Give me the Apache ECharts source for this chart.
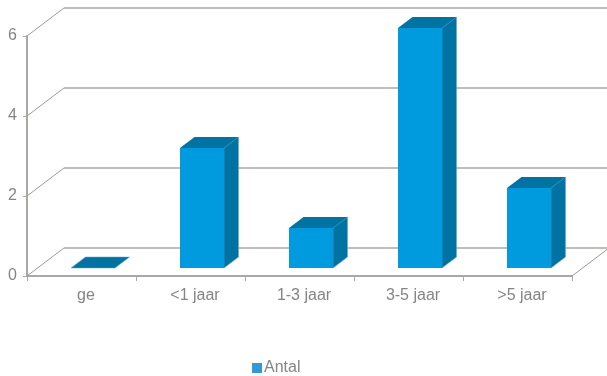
<!DOCTYPE html>
<html><head><meta charset="utf-8">
<style>html,body{margin:0;padding:0;background:#fff}#c{width:607px;height:376px}</style>
<script src="https://cdn.jsdelivr.net/npm/echarts@6/dist/echarts.min.js"></script>
</head><body><div id="c"></div>
<script>
var categories = ['ge', '<1 jaar', '1-3 jaar', '3-5 jaar', '>5 jaar'];
var antal = [0, 3, 1, 6, 2];
var yTicks = [0, 2, 4, 6];

var chart = echarts.init(document.getElementById('c'), null, {renderer: 'canvas'});
var wallDX = 37, wallDY = -28, barShiftX = 11.5, barShiftY = -8, depthX = 14.5, depthY = -11, barW = 44;
var FRONT = '#009ade', DARK = '#0073a3', LINE = '#a8a8a4', TXT = '#858585';

function renderWall(params, api) {
  var v = api.value(0);
  var p = api.coord([0, v]);
  var size = params.coordSys;
  var x0 = size.x, x1 = size.x + size.width, y = p[1];
  var ch = [
    {type: 'line', shape: {x1: x0, y1: y, x2: x0 + wallDX, y2: y + wallDY}, style: {stroke: '#9a9a96', lineWidth: 1}},
    {type: 'line', shape: {x1: x0 + wallDX, y1: y + wallDY, x2: 607, y2: y + wallDY}, style: {stroke: LINE, lineWidth: 1.4}}
  ];
  if (v === 0) {
    ch.push({type: 'line', shape: {x1: x1, y1: y, x2: x1 + wallDX, y2: y + wallDY}, style: {stroke: '#9a9a96', lineWidth: 1}});
  }
  return {type: 'group', children: ch};
}

function renderBar(params, api) {
  var c = api.coord([api.value(0), api.value(1)]);
  var b = api.coord([api.value(0), 0]);
  var l = c[0] + barShiftX - barW / 2, r = l + barW;
  var t = c[1] + barShiftY, bt = b[1] + barShiftY;
  var ch = [];
  if (bt - t > 0) {
    ch.push({type: 'polygon', shape: {points: [[r, t], [r + depthX, t + depthY], [r + depthX, bt + depthY], [r, bt]]},
      style: {fill: DARK, stroke: '#5fa9cc', lineWidth: 0.5}});
    ch.push({type: 'rect', shape: {x: l, y: t, width: barW, height: bt - t}, style: {fill: FRONT}});
  }
  ch.push({type: 'polygon', shape: {points: [[l, t], [r, t], [r + depthX, t + depthY], [l + depthX, t + depthY]]},
    style: {fill: DARK, stroke: bt - t > 0 ? null : '#5fa9cc', lineWidth: 0.5}});
  return {type: 'group', children: ch};
}

chart.setOption({
  animation: false,
  backgroundColor: '#fff',
  textStyle: {fontFamily: 'Liberation Sans'},
  legend: {
    data: [{name: 'Antal', icon: 'rect', itemStyle: {color: '#3399d4'}}],
    left: 247, top: 355, itemWidth: 10, itemHeight: 10, itemGap: 3,
    textStyle: {color: TXT, fontSize: 16, fontFamily: 'Liberation Sans', padding: [0, 0, 0, -3]}
  },
  grid: {left: 27, right: 35, top: 36, bottom: 100},
  xAxis: {
    type: 'category', data: categories, boundaryGap: true,
    axisLine: {lineStyle: {color: LINE, width: 2}},
    axisTick: {show: true, alignWithLabel: false, length: 5, lineStyle: {color: LINE, width: 1}},
    axisLabel: {color: TXT, fontSize: 16, margin: 12, padding: [0, 0, 0, 9], interval: 0},
    splitLine: {show: false}
  },
  yAxis: {
    type: 'value', min: 0, max: 6, interval: 2,
    axisLine: {show: true, lineStyle: {color: LINE, width: 2}},
    axisTick: {show: true, length: 4, lineStyle: {color: LINE, width: 1}},
    axisLabel: {color: TXT, fontSize: 16, margin: 10},
    splitLine: {show: false}
  },
  series: [
    {type: 'custom', name: 'wall', silent: true, clip: false, z: 1, renderItem: renderWall,
      data: yTicks.map(function (t) { return [t]; }), encode: {y: 0}},
    {type: 'custom', name: 'Antal', clip: false, z: 2, renderItem: renderBar, itemStyle: {color: FRONT},
      data: antal.map(function (v, i) { return [i, v]; }), encode: {x: 0, y: 1}}
  ]
});
</script></body></html>
